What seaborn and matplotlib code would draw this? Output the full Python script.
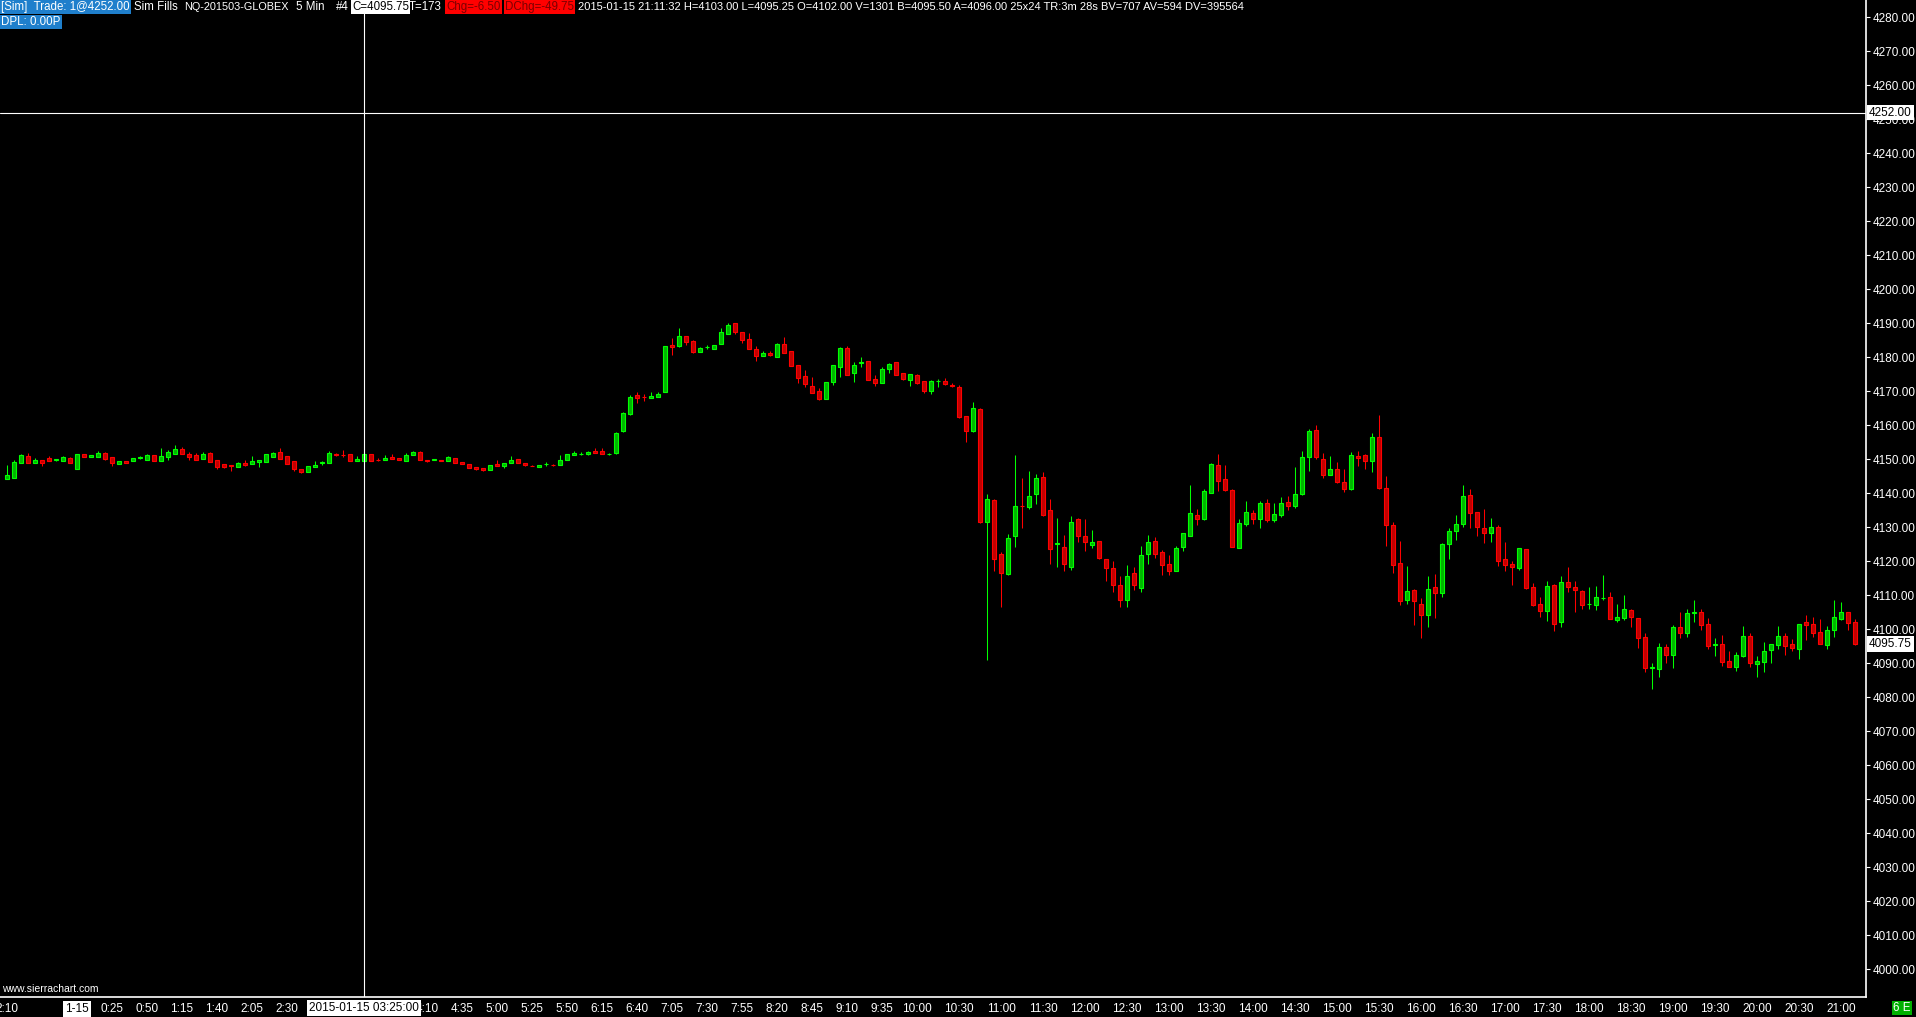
import numpy as np
import pandas as pd
import matplotlib
matplotlib.use("Agg")
import matplotlib.pyplot as plt
import seaborn as sns

# 5 minute bars, NQ-201503-GLOBEX, 23:10 -> 21:10
opens = [
    4144.3, 4144.6, 4149.0, 4151.0, 4149.0, 4149.7, 4150.4, 4149.8, 4149.6, 4150.4,
    4147.2, 4151.6, 4150.8, 4150.8, 4151.9, 4150.6, 4148.7, 4149.5, 4149.6, 4150.5,
    4149.9, 4151.3, 4149.6, 4150.8, 4151.7, 4153.0, 4151.6, 4151.3, 4150.2, 4151.9,
    4149.8, 4148.6, 4148.3, 4147.8, 4148.9, 4148.7, 4149.3, 4149.3, 4150.8, 4152.2,
    4151.0, 4149.5, 4147.0, 4146.4, 4147.8, 4149.0, 4149.0, 4151.5, 4151.4, 4151.6,
    4149.6, 4149.5, 4151.6, 4149.9, 4149.8, 4150.7, 4150.4, 4149.6, 4151.3, 4152.2,
    4149.8, 4149.9, 4149.8, 4149.5, 4150.4, 4149.2, 4148.6, 4147.7, 4147.4, 4146.9,
    4148.6, 4148.1, 4149.0, 4150.1, 4148.9, 4148.1, 4147.8, 4148.5, 4148.4, 4148.4,
    4149.9, 4151.3, 4151.5, 4151.5, 4152.4, 4152.4, 4151.5, 4151.8, 4158.2, 4163.4,
    4168.8, 4168.4, 4168.1, 4168.4, 4169.9, 4183.7, 4183.3, 4186.3, 4184.8, 4181.6,
    4183.0, 4182.5, 4184.0, 4186.9, 4190.0, 4187.3, 4185.3, 4182.3, 4180.5, 4181.2,
    4180.2, 4183.9, 4181.8, 4177.6, 4174.4, 4171.7, 4170.0, 4167.8, 4172.8, 4177.2,
    4182.6, 4175.3, 4178.4, 4178.8, 4173.5, 4172.5, 4176.7, 4178.6, 4175.3, 4173.4,
    4174.8, 4173.0, 4170.2, 4173.0, 4173.0, 4171.9, 4171.2, 4162.7, 4158.2, 4164.7,
    4131.6, 4137.9, 4122.1, 4116.2, 4127.5, 4136.4, 4135.9, 4139.7, 4144.7, 4135.0,
    4125.1, 4124.1, 4118.4, 4132.3, 4127.3, 4124.7, 4125.9, 4120.6, 4117.9, 4112.9,
    4108.5, 4116.5, 4112.2, 4122.0, 4125.9, 4122.6, 4119.1, 4117.2, 4124.3, 4127.5,
    4133.5, 4132.5, 4140.2, 4148.2, 4144.1, 4140.9, 4124.0, 4131.1, 4134.1, 4132.5,
    4137.0, 4132.2, 4133.7, 4137.3, 4136.4, 4139.7, 4150.6, 4158.5, 4150.0, 4145.5,
    4147.0, 4143.2, 4141.2, 4151.0, 4151.2, 4149.6, 4156.5, 4141.7, 4130.6, 4119.4,
    4108.7, 4111.7, 4107.4, 4104.3, 4112.3, 4110.8, 4125.2, 4128.8, 4130.9, 4139.4,
    4134.4, 4129.7, 4128.4, 4130.0, 4120.6, 4119.2, 4118.1, 4123.5, 4112.3, 4107.3,
    4105.5, 4112.9, 4102.0, 4113.8, 4112.3, 4111.4, 4107.3, 4107.2, 4109.2, 4109.4,
    4102.8, 4103.4, 4105.6, 4103.2, 4097.6, 4088.7, 4088.4, 4094.8, 4092.5, 4100.6,
    4099.0, 4104.8, 4105.0, 4101.5, 4095.4, 4095.6, 4090.6, 4089.0, 4092.2, 4097.9,
    4089.9, 4090.5, 4093.8, 4095.5, 4097.9, 4095.6, 4094.3, 4102.0, 4101.5, 4099.1,
    4095.5, 4099.7, 4103.0, 4105.0, 4102.0,
]
highs = [
    4148.3, 4149.8, 4151.6, 4151.9, 4150.4, 4149.8, 4151.0, 4150.2, 4151.0, 4150.7,
    4151.7, 4151.7, 4151.4, 4152.4, 4152.2, 4150.7, 4149.6, 4149.6, 4150.4, 4151.1,
    4151.7, 4151.4, 4153.3, 4152.7, 4154.2, 4153.6, 4152.2, 4151.9, 4152.2, 4152.0,
    4149.9, 4148.7, 4148.4, 4149.2, 4149.8, 4151.0, 4149.9, 4151.6, 4152.0, 4153.3,
    4151.1, 4149.6, 4147.1, 4148.1, 4149.5, 4149.5, 4152.4, 4151.8, 4152.7, 4151.7,
    4151.0, 4151.7, 4151.7, 4150.4, 4151.3, 4151.6, 4150.5, 4151.8, 4152.4, 4152.3,
    4149.9, 4150.1, 4149.8, 4151.0, 4150.5, 4149.3, 4148.7, 4147.8, 4147.5, 4148.4,
    4149.8, 4149.0, 4151.0, 4150.2, 4149.0, 4148.2, 4148.4, 4149.2, 4148.7, 4151.3,
    4151.7, 4152.4, 4152.0, 4152.3, 4153.3, 4153.3, 4151.8, 4157.9, 4163.9, 4168.8,
    4169.7, 4169.2, 4169.7, 4169.7, 4183.4, 4185.7, 4188.6, 4186.4, 4185.1, 4183.0,
    4183.7, 4183.6, 4188.6, 4190.1, 4190.1, 4187.4, 4187.1, 4183.2, 4181.9, 4181.9,
    4184.2, 4186.0, 4182.0, 4177.7, 4176.3, 4174.1, 4170.9, 4172.7, 4177.7, 4183.0,
    4183.3, 4178.6, 4180.1, 4178.9, 4174.8, 4177.1, 4178.2, 4178.7, 4175.4, 4175.1,
    4175.1, 4173.1, 4173.3, 4173.7, 4173.9, 4172.3, 4171.9, 4162.8, 4166.9, 4165.0,
    4139.8, 4138.3, 4122.7, 4127.9, 4151.3, 4144.5, 4146.6, 4145.6, 4146.3, 4138.3,
    4132.7, 4127.7, 4133.3, 4132.7, 4132.4, 4129.2, 4126.0, 4120.7, 4120.0, 4115.7,
    4118.9, 4118.3, 4124.5, 4127.7, 4127.0, 4123.3, 4121.9, 4124.5, 4128.3, 4142.4,
    4135.4, 4141.3, 4148.8, 4151.6, 4148.3, 4141.2, 4132.3, 4137.7, 4135.0, 4137.6,
    4138.3, 4137.0, 4138.9, 4139.2, 4147.7, 4152.4, 4158.9, 4160.0, 4151.8, 4151.0,
    4149.2, 4147.1, 4152.0, 4152.4, 4151.6, 4157.7, 4163.0, 4145.1, 4131.5, 4126.0,
    4118.6, 4111.8, 4109.2, 4115.7, 4116.4, 4125.3, 4129.8, 4133.5, 4142.4, 4141.2,
    4134.5, 4135.4, 4132.7, 4130.6, 4125.7, 4120.0, 4123.9, 4123.6, 4113.6, 4109.5,
    4114.2, 4113.2, 4115.7, 4118.3, 4114.1, 4111.5, 4112.4, 4112.7, 4115.9, 4110.9,
    4107.3, 4110.1, 4106.0, 4103.3, 4099.0, 4090.0, 4096.1, 4095.7, 4101.3, 4105.1,
    4106.0, 4108.6, 4105.9, 4103.3, 4097.3, 4098.3, 4093.6, 4093.2, 4100.9, 4098.8,
    4092.1, 4096.2, 4095.7, 4101.0, 4098.9, 4097.1, 4101.6, 4104.2, 4103.5, 4102.9,
    4100.9, 4108.6, 4108.0, 4105.1, 4103.0,
]
lows = [
    4144.2, 4144.5, 4148.9, 4148.9, 4148.9, 4148.1, 4149.5, 4149.5, 4149.5, 4148.9,
    4147.1, 4150.7, 4150.7, 4150.7, 4149.9, 4148.1, 4148.6, 4148.9, 4149.5, 4150.1,
    4149.8, 4149.5, 4149.5, 4149.9, 4151.6, 4151.6, 4149.9, 4149.8, 4150.1, 4149.2,
    4147.2, 4147.5, 4146.7, 4147.7, 4148.1, 4148.6, 4147.8, 4149.2, 4150.7, 4150.1,
    4148.6, 4146.7, 4145.9, 4146.3, 4147.7, 4148.4, 4148.9, 4151.1, 4150.6, 4149.4,
    4149.5, 4149.4, 4149.4, 4149.5, 4149.7, 4150.0, 4149.7, 4149.5, 4151.2, 4149.8,
    4149.2, 4149.8, 4149.5, 4149.4, 4148.9, 4148.6, 4147.4, 4146.9, 4146.7, 4146.8,
    4148.0, 4147.5, 4148.9, 4148.9, 4148.1, 4147.9, 4147.7, 4148.1, 4148.1, 4148.3,
    4149.8, 4151.2, 4151.4, 4151.4, 4151.8, 4151.6, 4151.4, 4151.7, 4158.1, 4163.0,
    4166.6, 4167.2, 4168.0, 4168.3, 4169.8, 4180.7, 4183.0, 4183.6, 4181.4, 4181.5,
    4182.4, 4182.4, 4183.9, 4186.8, 4186.9, 4184.3, 4182.4, 4179.0, 4180.4, 4180.5,
    4180.1, 4181.3, 4177.4, 4172.4, 4171.4, 4169.5, 4167.5, 4167.7, 4171.9, 4174.3,
    4174.8, 4172.8, 4177.2, 4173.3, 4171.6, 4172.4, 4175.5, 4174.8, 4173.3, 4171.7,
    4172.0, 4169.6, 4169.3, 4171.3, 4171.9, 4171.4, 4162.2, 4155.2, 4158.1, 4131.3,
    4091.0, 4117.0, 4106.6, 4116.1, 4124.3, 4129.9, 4135.5, 4136.9, 4133.4, 4119.3,
    4118.4, 4117.0, 4117.4, 4125.7, 4123.1, 4124.0, 4120.8, 4114.3, 4111.1, 4106.6,
    4106.6, 4111.6, 4111.0, 4119.3, 4121.1, 4115.9, 4116.0, 4117.1, 4123.1, 4127.4,
    4130.7, 4132.2, 4140.1, 4140.7, 4140.8, 4124.2, 4123.9, 4130.5, 4131.1, 4129.9,
    4131.6, 4131.6, 4133.1, 4135.2, 4135.8, 4139.6, 4146.7, 4150.1, 4144.6, 4145.4,
    4143.1, 4140.5, 4141.1, 4148.1, 4147.0, 4146.4, 4141.4, 4124.6, 4116.7, 4107.2,
    4107.5, 4101.4, 4097.5, 4100.8, 4103.4, 4109.6, 4120.8, 4126.4, 4130.2, 4129.9,
    4127.3, 4125.5, 4125.8, 4118.7, 4117.0, 4113.0, 4117.5, 4111.8, 4106.9, 4103.6,
    4102.5, 4099.6, 4100.8, 4111.1, 4105.2, 4105.9, 4106.1, 4105.8, 4108.5, 4103.0,
    4102.2, 4102.7, 4100.8, 4094.6, 4087.5, 4082.4, 4086.1, 4090.1, 4088.7, 4097.5,
    4097.8, 4102.2, 4099.9, 4094.3, 4092.1, 4089.3, 4088.9, 4087.8, 4091.9, 4088.9,
    4085.9, 4087.3, 4090.2, 4094.3, 4092.5, 4093.5, 4091.4, 4096.9, 4097.8, 4095.7,
    4094.3, 4097.8, 4102.7, 4099.9, 4095.25,
]
closes = [
    4145.4, 4149.2, 4151.3, 4149.0, 4149.8, 4149.0, 4149.6, 4149.9, 4150.6, 4149.0,
    4151.6, 4150.8, 4151.3, 4151.9, 4150.0, 4149.0, 4149.5, 4149.0, 4150.3, 4150.6,
    4151.3, 4149.6, 4151.0, 4152.1, 4153.0, 4151.7, 4150.8, 4149.9, 4151.6, 4149.3,
    4147.8, 4147.8, 4148.0, 4149.0, 4148.2, 4149.5, 4149.8, 4151.5, 4151.9, 4150.2,
    4148.7, 4147.0, 4146.3, 4148.0, 4148.3, 4149.1, 4151.9, 4151.4, 4151.2, 4149.5,
    4150.1, 4151.6, 4149.5, 4149.7, 4150.4, 4150.1, 4149.8, 4151.3, 4152.2, 4149.9,
    4149.5, 4150.0, 4149.6, 4150.7, 4149.0, 4148.7, 4147.5, 4147.1, 4146.9, 4148.3,
    4148.1, 4148.9, 4149.8, 4149.0, 4148.4, 4148.0, 4148.3, 4148.6, 4148.3, 4149.8,
    4151.6, 4151.8, 4151.6, 4152.2, 4151.9, 4151.7, 4151.7, 4157.8, 4163.5, 4168.2,
    4168.1, 4168.3, 4168.5, 4169.1, 4183.2, 4183.1, 4186.3, 4184.6, 4181.6, 4182.7,
    4183.1, 4183.5, 4187.3, 4189.4, 4187.5, 4185.2, 4182.5, 4180.5, 4181.2, 4180.6,
    4183.9, 4181.4, 4177.5, 4174.0, 4172.2, 4169.6, 4167.8, 4172.6, 4177.6, 4182.6,
    4174.9, 4177.6, 4178.5, 4173.4, 4172.5, 4176.6, 4178.0, 4174.9, 4173.6, 4175.0,
    4172.5, 4170.2, 4173.0, 4173.1, 4172.0, 4171.7, 4162.5, 4158.2, 4165.0, 4131.6,
    4138.2, 4120.8, 4116.5, 4126.8, 4136.2, 4136.2, 4139.1, 4144.4, 4133.5, 4123.7,
    4125.2, 4119.1, 4131.5, 4127.5, 4125.8, 4125.6, 4120.9, 4118.1, 4112.9, 4108.5,
    4115.6, 4112.9, 4121.8, 4125.6, 4122.2, 4118.8, 4117.2, 4123.8, 4128.2, 4134.1,
    4132.5, 4140.6, 4148.5, 4143.7, 4141.1, 4124.3, 4131.2, 4134.6, 4132.5, 4137.0,
    4132.2, 4133.8, 4137.0, 4136.4, 4139.7, 4150.6, 4158.2, 4150.6, 4145.5, 4147.0,
    4143.2, 4141.2, 4151.2, 4150.5, 4149.6, 4156.5, 4141.7, 4130.8, 4119.0, 4108.2,
    4111.4, 4108.2, 4104.3, 4111.8, 4110.8, 4125.0, 4128.8, 4130.9, 4139.1, 4134.3,
    4130.2, 4128.4, 4130.0, 4120.2, 4119.0, 4118.2, 4123.8, 4112.2, 4107.2, 4105.3,
    4112.6, 4101.7, 4113.8, 4112.5, 4111.7, 4107.2, 4107.4, 4109.4, 4109.3, 4103.1,
    4103.5, 4105.9, 4103.7, 4097.5, 4088.7, 4088.8, 4094.7, 4092.3, 4100.6, 4098.8,
    4104.7, 4105.0, 4101.2, 4095.2, 4095.5, 4090.5, 4089.0, 4092.3, 4097.9, 4090.0,
    4090.6, 4093.5, 4095.6, 4097.9, 4095.2, 4094.4, 4101.5, 4101.4, 4099.0, 4095.8,
    4099.7, 4103.5, 4105.0, 4101.9, 4095.75,
]

# time labels (the ones under the cursor time box are hidden in the source chart)
tick_bars = [0, 10, 15, 20, 25, 30, 35, 40, 60, 65, 70, 75, 80, 85, 90,
             95, 100, 105, 110, 115, 120, 125, 130, 136, 142, 148, 154, 160, 166,
             172, 178, 184, 190, 196, 202, 208, 214, 220, 226, 232, 238, 244, 250,
             256, 262]
tick_labels = ["2:10", "1-15", "0:25", "0:50", "1:15", "1:40", "2:05", "2:30",
               "4:10", "4:35", "5:00", "5:25", "5:50", "6:15", "6:40",
               "7:05", "7:30", "7:55", "8:20", "8:45", "9:10", "9:35", "10:00", "10:30",
               "11:00", "11:30", "12:00", "12:30", "13:00", "13:30", "14:00", "14:30",
               "15:00", "15:30", "16:00", "16:30", "17:00", "17:30", "18:00", "18:30",
               "19:00", "19:30", "20:00", "20:30", "21:00"]
price_ticks = list(range(4000, 4290, 10))

cursor_bar = 51
cursor_price = 4252.00
cursor_time = "2015-01-15 03:25:00"
last_price = 4095.75

df = pd.DataFrame({"open": opens, "high": highs, "low": lows, "close": closes})
df["bar"] = np.arange(len(df))
df["up"] = df["close"] >= df["open"]

sns.set_theme(style="dark", rc={"axes.facecolor": "black", "figure.facecolor": "black"})
plt.rcParams["font.family"] = ["Liberation Sans", "DejaVu Sans"]

W, H = 1916, 1017
fig = plt.figure(figsize=(W / 100, H / 100), dpi=100)
ax = fig.add_axes([0, 20 / H, 1866 / W, 997 / H])
ax.set_facecolor("black")

UP_EDGE, UP_FILL = "#00ff00", "#00b400"
DN_EDGE, DN_FILL = "#ff0000", "#c00000"
edge = np.where(df["up"], UP_EDGE, DN_EDGE)
fill = np.where(df["up"], UP_FILL, DN_FILL)

# wicks then bodies
ax.vlines(df["bar"], df["low"], df["high"], colors=edge, linewidth=0.75, zorder=2)
body_lo = df[["open", "close"]].min(axis=1)
body_h = (df["close"] - df["open"]).abs().clip(lower=0.15)
ax.bar(df["bar"], body_h, bottom=body_lo, width=0.6, color=fill,
       edgecolor=edge, linewidth=0.8, zorder=3)

ax.set_xlim(-1, 265.57)
ax.set_ylim(3991.85, 4285.09)

# crosshair
ax.axvline(cursor_bar, color="white", linewidth=0.8, zorder=5)
ax.axhline(cursor_price, color="white", linewidth=0.8, zorder=5)

# axes frame
for side in ["top", "left"]:
    ax.spines[side].set_visible(False)
for side in ["right", "bottom"]:
    ax.spines[side].set_visible(True)
    ax.spines[side].set_color("white")
    ax.spines[side].set_linewidth(1.2)

ax.yaxis.tick_right()
ax.set_yticks(price_ticks)
ax.set_yticklabels([f"{v:.2f}" for v in price_ticks])
ax.set_xticks(tick_bars)
ax.set_xticklabels(tick_labels)
ax.tick_params(axis="both", colors="white", labelcolor="white", labelsize=8.5,
               direction="out", length=3, width=0.8, pad=1.5)
ax.tick_params(axis="y", pad=2)
ax.grid(False)

lbl = ax.get_xticklabels()[1]
lbl.set_color("black")
lbl.set_bbox(dict(boxstyle="square,pad=0.15", fc="white", ec="none"))

# axis value boxes
ytrans = ax.get_yaxis_transform()
ax.text(1.0 + 3 / 1866, cursor_price, f"{cursor_price:.2f}", transform=ytrans,
        ha="left", va="center", fontsize=8.5, color="black", clip_on=False,
        bbox=dict(boxstyle="square,pad=0.15", fc="white", ec="none"), zorder=10)
ax.text(1.0 + 3 / 1866, last_price, f"{last_price:.2f}", transform=ytrans,
        ha="left", va="center", fontsize=8.5, color="black", clip_on=False,
        bbox=dict(boxstyle="square,pad=0.15", fc="white", ec="none"), zorder=10)
xtrans = ax.get_xaxis_transform()
ax.text(cursor_bar, -11 / 997, cursor_time, transform=xtrans, ha="center", va="center",
        fontsize=8.5, color="black", clip_on=False,
        bbox=dict(boxstyle="square,pad=0.2", fc="white", ec="none"), zorder=10)


def ftext(x, y, s, color="white", bg=None, size=8.3):
    kw = {}
    if bg is not None:
        kw["bbox"] = dict(boxstyle="square,pad=0.12", fc=bg, ec="none")
    fig.text(x / W, 1 - y / H, s, color=color, fontsize=size, ha="left",
             va="center", **kw)


BLUE = "#1f7fcc"
ftext(1, 7, "[Sim]  Trade: 1@4252.00", bg=BLUE)
ftext(134, 7, "Sim Fills")
ftext(184, 7, "NQ-201503-GLOBEX", size=7.8)
ftext(296, 7, "5 Min")
ftext(336, 7, "#4")
ftext(352, 7, "C=4095.75", color="black", bg="white")
ftext(409, 7, "T=173")
ftext(446, 7, "Chg=-6.50", color="#7a0000", bg="#ff0000")
ftext(505, 7, "DChg=-49.75", color="#7a0000", bg="#ff0000")
ftext(578, 7, "2015-01-15 21:11:32 H=4103.00 L=4095.25 O=4102.00 V=1301 "
              "B=4095.50 A=4096.00 25x24 TR:3m 28s BV=707 AV=594 DV=395564", size=8.05)
ftext(1, 22, "DPL: 0.00P", bg=BLUE)
ftext(2, 989, "www.sierrachart.com", size=7.5)
ftext(1893, 1008, "6 E", bg="#00b000")

fig.savefig("out.png", dpi=100, facecolor="black")
